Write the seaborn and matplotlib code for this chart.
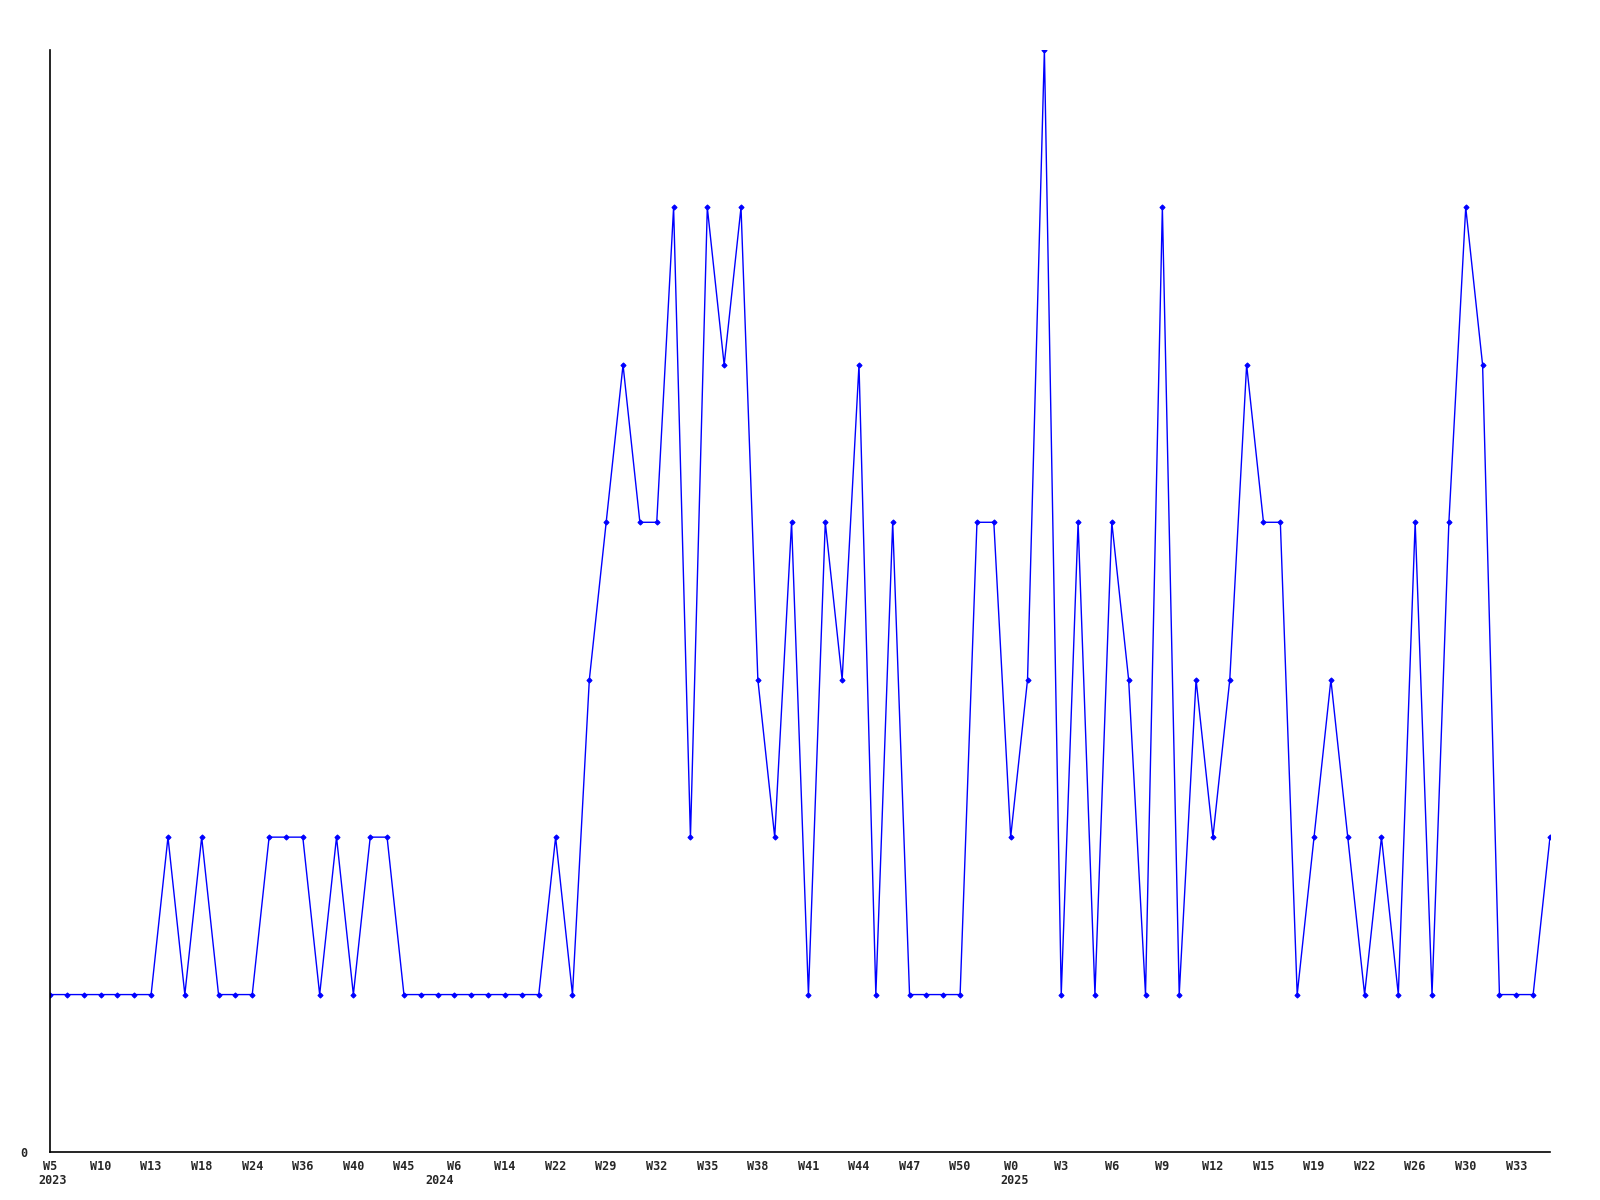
import numpy as np
import pandas as pd
import matplotlib
matplotlib.use("Agg")
import matplotlib.pyplot as plt
import matplotlib.transforms as mtransforms
import seaborn as sns

# weekly counts, one point per week with data
counts = [1, 1, 1, 1, 1, 1, 1, 2, 1, 2,
          1, 1, 1, 2, 2, 2, 1, 2, 1, 2,
          2, 1, 1, 1, 1, 1, 1, 1, 1, 1,
          2, 1, 3, 4, 5, 4, 4, 6, 2, 6,
          5, 6, 3, 2, 4, 1, 4, 3, 5, 1,
          4, 1, 1, 1, 1, 4, 4, 2, 3, 7,
          1, 4, 1, 4, 3, 1, 6, 1, 3, 2,
          3, 5, 4, 4, 1, 2, 3, 2, 1, 2,
          1, 4, 1, 4, 6, 5, 1, 1, 1, 2]

week_labels = ["W5", "W10", "W13", "W18", "W24", "W36", "W40", "W45",
               "W6", "W14", "W22", "W29", "W32", "W35", "W38", "W41",
               "W44", "W47", "W50", "W0", "W3", "W6", "W9", "W12",
               "W15", "W19", "W22", "W26", "W30", "W33"]
years = ["2023", "2024", "2025"]
year_start_idx = [-0.7, 22.3, 56.4]

sns.set_theme(style="white")
plt.rcParams['font.family'] = ['DejaVu Sans Mono', 'DejaVu Sans']

df = pd.DataFrame({"idx": np.arange(len(counts)), "count": counts})

fig = plt.figure(figsize=(16, 12), dpi=100)
ax = fig.add_axes([50 / 1600, 48 / 1200, 1500 / 1600, 1102 / 1200])

sns.lineplot(data=df, x="idx", y="count", ax=ax, color="#0000ff",
             linewidth=1.0, marker="D", markersize=2.6,
             markeredgecolor="#0000ff", markerfacecolor="#0000ff")

ax.set_xlim(0, len(counts) - 1)
ax.set_ylim(0, max(counts))

# tick every third point
tick_pos = list(range(0, len(counts), 3))
ax.set_xticks(tick_pos)
ax.set_xticklabels(week_labels, fontsize=8.5, fontweight="bold")
ax.set_yticks([0])
ax.set_yticklabels(["0"], fontsize=8.5, fontweight="bold")
ax.tick_params(axis="x", length=0, pad=6)
ax.tick_params(axis="y", length=0, pad=16)

# year names under the first week of each year
trans = mtransforms.blended_transform_factory(ax.transData, fig.transFigure)
for yr, xi in zip(years, year_start_idx):
    ax.text(xi, (1200 - 1187) / 1200, yr, transform=trans, ha="left",
            va="bottom", fontsize=8.5, fontweight="bold", clip_on=False)

ax.set_xlabel("")
ax.set_ylabel("")
ax.grid(False)
for side in ["top", "right"]:
    ax.spines[side].set_visible(False)
for side in ["left", "bottom"]:
    ax.spines[side].set_color("black")
    ax.spines[side].set_linewidth(1.2)

fig.savefig("out.png", dpi=100, facecolor="white")
